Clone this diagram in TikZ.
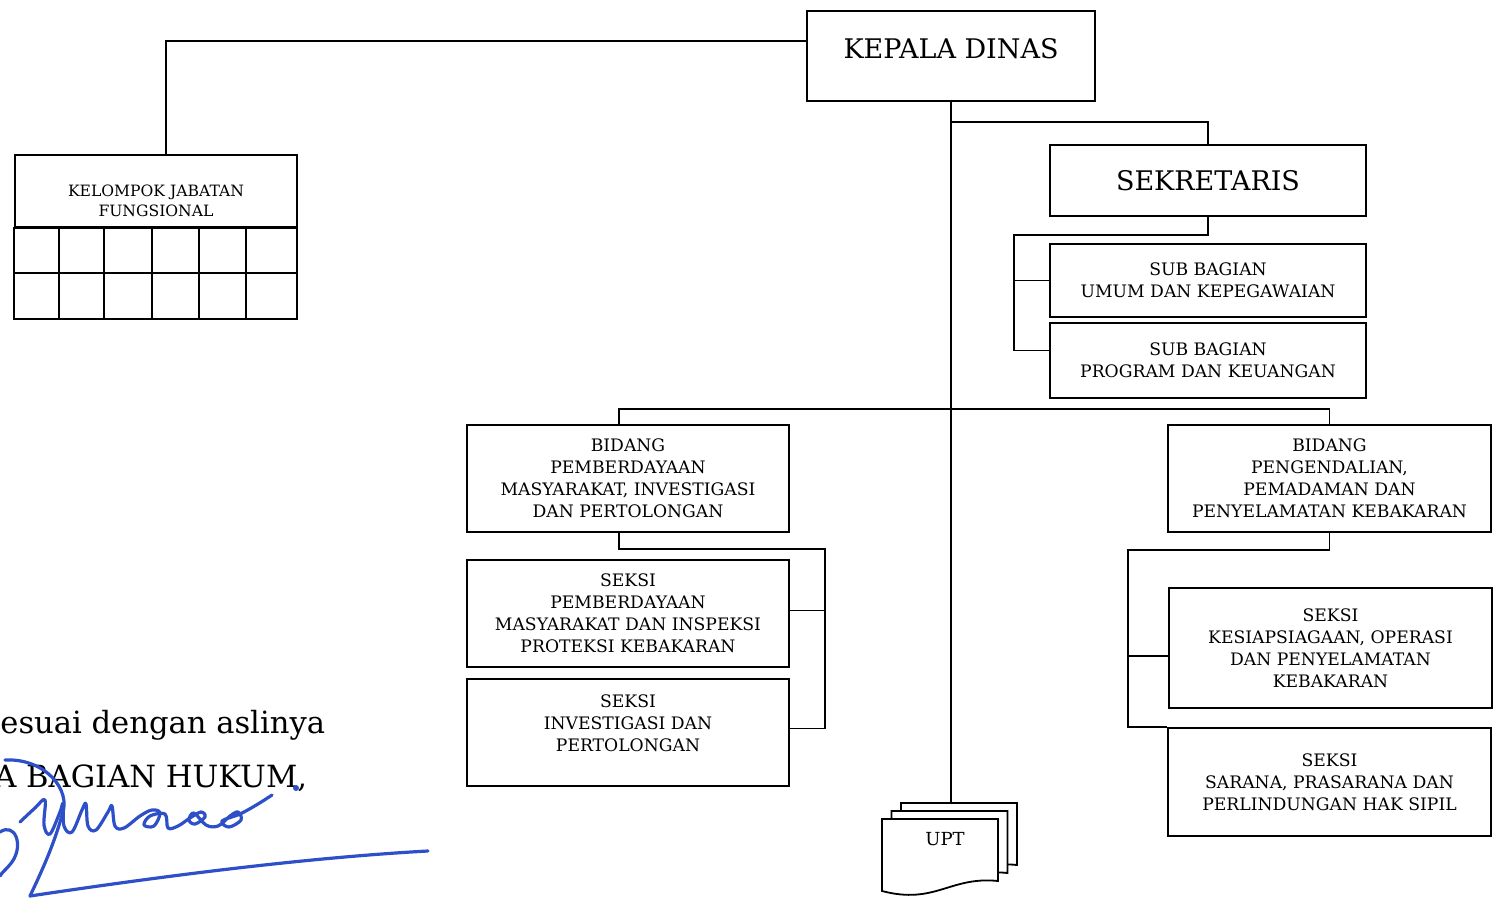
\documentclass[tikz,border=0pt]{standalone}
\usepackage{fontspec}
\setmainfont{DejaVu Serif}
\usetikzlibrary{calc}

\newcommand{\unitfont}{\fontsize{8.6}{11}\selectfont}
\newcommand{\headfont}{\fontsize{13.5}{16}\selectfont}
\newcommand{\smallfont}{\fontsize{7.8}{10}\selectfont}
\newcommand{\uptfont}{\fontsize{9}{11}\selectfont}
\newcommand{\notefont}{\fontsize{15.3}{18}\selectfont}
\definecolor{signblue}{RGB}{45,80,200}

\begin{document}
\begin{tikzpicture}[x=0.5pt,y=-0.5pt,
  unit/.style={draw,line width=0.9pt,inner sep=0pt,align=center,font=\unitfont},
  conn/.style={line width=0.9pt},
  sign/.style={signblue,line width=1.6pt,line cap=round,line join=round}]
  \useasboundingbox (0,0) rectangle (1500,899);

  % kepala dinas and kelompok jabatan fungsional
  \node[unit,minimum width=144pt,minimum height=45pt,font=\headfont,text depth=8pt] (kepala) at (951,56) {KEPALA DINAS};
  \node[unit,minimum width=141pt,minimum height=36pt] (kjf) at (156,191) {};
  \node[font=\smallfont,align=center,inner sep=0pt] (kjftext) at (156,201) {KELOMPOK JABATAN\\FUNGSIONAL};
  \draw[conn] (kjf.south west) rectangle (297,319);
  \draw[conn] (15,273) -- (297,273);
  \foreach \x in {59,104,152,199,246}
    \draw[conn] (\x,227) -- (\x,319);

  % sekretariat
  \node[unit,minimum width=158pt,minimum height=35.5pt,font=\headfont] (sekretaris) at (1208,180.5) {SEKRETARIS};
  \node[unit,minimum width=158pt,minimum height=36.5pt] (subumum) at (1208,280.5) {SUB BAGIAN\\UMUM DAN KEPEGAWAIAN};
  \node[unit,minimum width=158pt,minimum height=37.5pt] (subprog) at (1208,360.5) {SUB BAGIAN\\PROGRAM DAN KEUANGAN};

  % bidang pemberdayaan masyarakat
  \node[unit,minimum width=161pt,minimum height=53.5pt] (bidpm) at (628,478.5) {BIDANG\\PEMBERDAYAAN\\MASYARAKAT, INVESTIGASI\\DAN PERTOLONGAN};
  \node[unit,minimum width=161pt,minimum height=53.5pt] (skpm) at (628,613.5) {SEKSI\\PEMBERDAYAAN\\MASYARAKAT DAN INSPEKSI\\PROTEKSI KEBAKARAN};
  \node[unit,minimum width=161pt,minimum height=53.5pt,text depth=9pt] (skinv) at (628,732.5) {SEKSI\\INVESTIGASI DAN\\PERTOLONGAN};

  % bidang pengendalian kebakaran
  \node[unit,minimum width=161.5pt,minimum height=53.5pt] (bidpk) at (1329.5,478.5) {BIDANG\\PENGENDALIAN,\\PEMADAMAN DAN\\PENYELAMATAN KEBAKARAN};
  \node[unit,minimum width=161.5pt,minimum height=60pt] (skops) at (1330.5,648) {SEKSI\\KESIAPSIAGAAN, OPERASI\\DAN PENYELAMATAN\\KEBAKARAN};
  \node[unit,minimum width=161.5pt,minimum height=54pt] (sksar) at (1329.5,782) {SEKSI\\SARANA, PRASARANA DAN\\PERLINDUNGAN HAK SIPIL};

  % upt (stacked documents)
  \foreach \s in {2,1,0}
    \draw[conn,fill=white,shift={(\s*9.5,-\s*8)}]
      (882,819) -- (998,819) -- (998,881) .. controls (950,876) and (935,905) .. (882,891) -- cycle;
  \node[font=\uptfont,inner sep=0pt] (upt) at (945,839) {UPT};
  \coordinate (upttop) at (951,803);

  % connectors
  \coordinate (kjfj) at (166,41);
  \coordinate (sekj) at (951,122);
  \coordinate (subj) at (1014,235);
  \coordinate (bidbar) at (951,409);
  \coordinate (pmj) at (825,549);
  \coordinate (pkj) at (1128,550);
  \draw[conn] (kepala.west |- kjfj) -- (kjfj) -- (kjfj |- kjf.north);
  \draw[conn] (kepala.south) -- (upttop);
  \draw[conn] (sekj) -| (sekretaris.north);
  \draw[conn] (sekretaris.south) |- (subj) |- ([yshift=5pt]subprog.west);
  \draw[conn] (subj |- subumum.west) -- (subumum.west);
  \draw[conn] ([xshift=-4.5pt]bidpm.north) |- (bidbar) -| (bidpk.north);
  \draw[conn] ([xshift=-4.5pt]bidpm.south) |- (pmj) |- ([yshift=2pt]skinv.east);
  \draw[conn] ([yshift=1.5pt]skpm.east) -- ([yshift=1.5pt]skpm.east -| pmj);
  \draw[conn] (bidpk.south) |- (pkj) |- (sksar.north west);
  \draw[conn] ([yshift=-4pt]skops.west) -- ([yshift=-4pt]skops.west -| pkj);

  % legalisation note with signature
  \begin{scope}
    \clip (0,0) rectangle (1500,899);
    \node[font=\notefont,anchor=base west,inner sep=0pt] (note1) at (0,733) {esuai dengan aslinya};
    \node[font=\notefont,anchor=base west,inner sep=0pt] (note2) at (-6,787) {A BAGIAN HUKUM,};
    \draw[sign] (30,896) .. controls (150,878) and (300,858) .. (428,851);
    \draw[sign] (5,760) .. controls (45,758) and (72,790) .. (62,815) .. controls (54,845) and (40,875) .. (30,896);
    \draw[sign] (0,832) .. controls (15,822) and (24,845) .. (12,862) .. controls (6,870) and (2,872) .. (0,876);
    \draw[sign] plot[smooth,tension=0.6] coordinates {(20,822) (35,808) (45,800) (44,825) (50,834) (60,812) (63,804) (64,826) (72,832) (82,810) (86,804) (88,826) (96,830) (108,812) (112,806) (115,826) (124,828) (140,816) (152,810) (160,813) (154,826) (144,825) (150,816) (165,814) (168,828) (178,826) (190,818) (201,812) (205,817) (195,824) (189,820) (194,813) (206,825) (218,826) (230,816) (238,812) (241,820) (229,827) (222,821) (240,814) (258,804) (272,795)};
    \fill[signblue] (296,788) circle (1.5pt);
  \end{scope}
\end{tikzpicture}
\end{document}
